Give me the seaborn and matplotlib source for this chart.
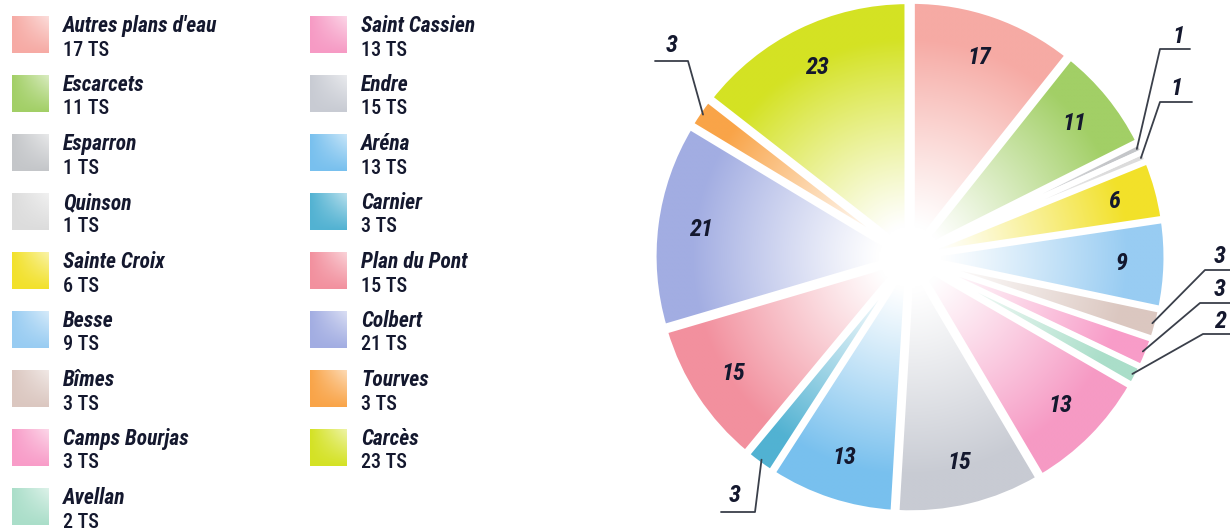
import numpy as np
import seaborn as sns
import matplotlib
matplotlib.use("Agg")
import matplotlib.pyplot as plt
import matplotlib.colors as mcolors
from matplotlib import font_manager

# Data: number of TS per lake
lakes = ["Autres plans d'eau", "Escarcets", "Esparron", "Quinson", "Sainte Croix",
         "Besse", "Bîmes", "Camps Bourjas", "Avellan", "Saint Cassien", "Endre",
         "Aréna", "Carnier", "Plan du Pont", "Colbert", "Tourves", "Carcès"]
counts = [17, 11, 1, 1, 6, 9, 3, 3, 2, 13, 15, 13, 3, 15, 21, 3, 23]
colors = ["#f6aaa4", "#a2cf66", "#c4c6c9", "#dcdcdc", "#f2e12a", "#98ccf2",
          "#dbc7c0", "#f89cc8", "#aadec9", "#f69ac4", "#c8cbd3", "#78c0ee",
          "#52b2d2", "#f2909e", "#a2ade2", "#f9a448", "#d4e224"]

# small slices get an outside label: (elbow x, line y, line end x, text x, text y) in px
outside_labels = {
    "Esparron": (1160, 49, 1190, 1178, 36),
    "Quinson": (1160, 102, 1192, 1176, 88),
    "Bîmes": (1205, 270, 1232, 1220, 256),
    "Camps Bourjas": (1200, 303, 1232, 1220, 289),
    "Avellan": (1203, 334, 1232, 1220, 321),
    "Carnier": (755, 512, 721, 735, 496),
    "Tourves": (688, 61, 655, 672, 45),
}

NAVY = "#14182e"
total = sum(counts)

sns.set_theme(style="white")
installed = {f.name for f in font_manager.fontManager.ttflist}
family = next((f for f in ['Liberation Sans Narrow', 'Roboto Condensed', 'Open Sans Condensed',
                           'Roboto', 'Lato'] if f in installed), 'DejaVu Sans')
plt.rcParams['font.family'] = [family, 'DejaVu Sans']

fig = plt.figure(figsize=(12.3, 5.3), dpi=100)

# Legend canvas in pixel coordinates
leg = fig.add_axes([0, 0, 1, 1])
leg.set_xlim(0, 1230)
leg.set_ylim(530, 0)
leg.axis('off')


def swatch(ax, x, y, size, color):
    c = np.array(mcolors.to_rgb(color))
    yy, xx = np.mgrid[0:1:40j, 0:1:40j]
    w = 0.6 * xx * (1 - yy)
    img = c + (1 - c) * w[..., None]
    ax.imshow(img, extent=(x, x + size, y + size, y), origin='upper',
              interpolation='bilinear', aspect='auto')


col_x = [12, 310]
per_col = 9
for i, (name, n, col) in enumerate(zip(lakes, counts, colors)):
    cx = col_x[i // per_col]
    top = 16 + (i % per_col) * 59
    swatch(leg, cx, top, 37, col)
    leg.text(cx + 51, top + 10, name, fontsize=15.5, fontweight='heavy', fontstyle='italic',
             color=NAVY, va='center', ha='left')
    leg.text(cx + 51, top + 34, f"{n} TS", fontsize=14.5, fontweight='medium', color=NAVY,
             va='center', ha='left')
leg.set_xlim(0, 1230)
leg.set_ylim(530, 0)

# Pie axes: square, centred on (910, 257) px, 250 px per data unit
PX = 250.0
CX, CY = 910, 257
side = 2.4 * PX
ax = fig.add_axes([(CX - side / 2) / 1230, (530 - CY - side / 2) / 530, side / 1230, side / 530])
ax.patch.set_alpha(0)


def px2d(px, py):
    return (px - CX) / PX, (CY - py) / PX


def fmt(p):
    v = int(round(p * total / 100))
    return str(v) if v >= 5 else ''


wedges, texts, autotexts = ax.pie(
    counts, colors=colors, startangle=90, counterclock=False, radius=1.0,
    explode=[0.025] * len(counts), autopct=fmt, pctdistance=0.82,
    wedgeprops=dict(linewidth=4, edgecolor='white'),
    textprops=dict(fontsize=17.5, fontweight='heavy', fontstyle='italic', color=NAVY))

# radial gradient: white in the middle, full colour toward the rim
grid = np.linspace(-1.2, 1.2, 500)
X, Y = np.meshgrid(grid, grid)
for w, col in zip(wedges, colors):
    c = np.array(mcolors.to_rgb(col))
    wx, wy = w.center
    d = np.hypot(X - wx, Y - wy) / w.r
    t = np.clip((d - 0.1) / 0.75, 0, 1) ** 1.1
    img = 1 - t[..., None] * (1 - c)
    im = ax.imshow(img, extent=(-1.2, 1.2, -1.2, 1.2), origin='lower',
                   interpolation='bilinear', zorder=1)
    im.set_clip_path(w)
    w.set_facecolor('none')
    w.set_zorder(2)

for t in autotexts:
    t.set_zorder(5)

# leader lines for small slices
for name, w in zip(lakes, wedges):
    if name not in outside_labels:
        continue
    ex, ly, fx, tx, ty = outside_labels[name]
    ang = np.deg2rad((w.theta1 + w.theta2) / 2)
    wx, wy = w.center
    sx, sy = wx + 0.98 * w.r * np.cos(ang), wy + 0.98 * w.r * np.sin(ang)
    e = px2d(ex, ly)
    f = px2d(fx, ly)
    ax.plot([sx, e[0], f[0]], [sy, e[1], f[1]], color="#3a3f4a", lw=1.3, zorder=6,
            clip_on=False)
    p = px2d(tx, ty)
    v = counts[lakes.index(name)]
    ax.text(p[0], p[1], str(v), fontsize=17.5, fontweight='heavy', fontstyle='italic',
            color=NAVY, ha='center', va='center', zorder=6, clip_on=False)

ax.set_xlim(-1.2, 1.2)
ax.set_ylim(-1.2, 1.2)
ax.set_aspect('equal')
ax.axis('off')

fig.savefig("out.png", dpi=100)
